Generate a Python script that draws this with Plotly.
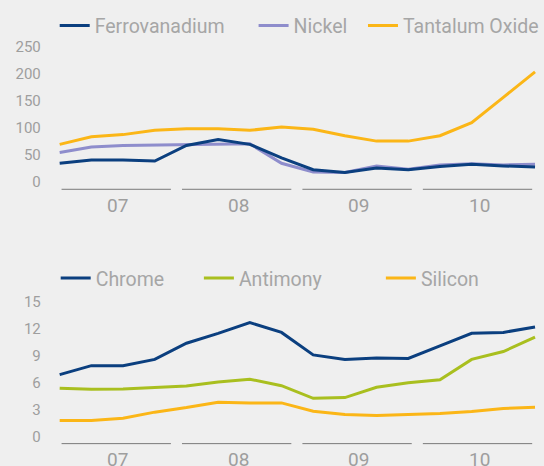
import plotly.graph_objects as go

W, H = 544, 466

quarters = list(range(16))
year_labels = ["07", "08", "09", "10"]

ferrovanadium = [34, 40, 40, 38, 67, 78, 69, 44, 22, 17, 25, 22, 28, 32, 29, 27]
nickel = [54, 64, 67, 68, 69, 69, 70, 34, 18, 17, 29, 23, 31, 33, 31, 32]
tantalum = [69, 83, 87, 95, 98, 98, 95, 101, 97, 85, 75, 75, 85, 109, 156, 203]

chrome = [6.9, 7.9, 7.9, 8.6, 10.4, 11.5, 12.7, 11.6, 9.1, 8.6, 8.75, 8.7, 10.1, 11.5, 11.6, 12.2]
antimony = [5.4, 5.27, 5.3, 5.45, 5.65, 6.08, 6.4, 5.67, 4.27, 4.35, 5.5, 6.0, 6.33, 8.6, 9.47, 11.08]
silicon = [1.8, 1.8, 2.06, 2.73, 3.24, 3.83, 3.76, 3.76, 2.84, 2.47, 2.36, 2.47, 2.58, 2.8, 3.13, 3.28]

top_ticks = [0, 50, 100, 150, 200, 250]
bot_ticks = [0, 3, 6, 9, 12, 15]

BLUE = "#0b3f7f"
LAV = "#8e8dcc"
AMBER = "#fbb617"
GREEN = "#a9bf1f"
GREY = "#9e9e9e"
BG = "#efefef"
FONT = "Roboto"

def fx(px):
    return px / W

def fy(py):
    return 1 - py / H

# x scale: quarter 0 at px 60, quarter 15 at px 538
dx = (538 - 60) / 15.0
left_px = 42
x_range = [(left_px - 60) / dx, 15 + (W - 538) / dx]

# top y scale
t0, tk = 179.8, (181.7 - 45.7) / 250
top_dom_px = (38, 194)
top_range = [(t0 - top_dom_px[1]) / tk, (t0 - top_dom_px[0]) / tk]

# bottom y scale
b0, bk = 436.5, (437.0 - 301.3) / 15
bot_dom_px = (292, 452)
bot_range = [(b0 - bot_dom_px[1]) / bk, (b0 - bot_dom_px[0]) / bk]

fig = go.Figure()

series = [
    ("Ferrovanadium", ferrovanadium, BLUE, "x", "y", "legend"),
    ("Nickel", nickel, LAV, "x", "y", "legend2"),
    ("Tantalum Oxide", tantalum, AMBER, "x", "y", "legend3"),
    ("Chrome", chrome, BLUE, "x2", "y2", "legend4"),
    ("Antimony", antimony, GREEN, "x2", "y2", "legend5"),
    ("Silicon", silicon, AMBER, "x2", "y2", "legend6"),
]
order = [2, 1, 0, 5, 4, 3]
for i in order:
    name, vals, col, xa, ya, lg = series[i]
    fig.add_trace(go.Scatter(
        x=quarters, y=vals, mode="lines", name=name, showlegend=True,
        line=dict(color=col, width=3), xaxis=xa, yaxis=ya, legend=lg,
    ))

legend_pos = {
    "legend": (61, 23), "legend2": (261, 23), "legend3": (371, 23),
    "legend4": (62, 277), "legend5": (206, 277), "legend6": (389, 277),
}
legend_font = dict(family=FONT, size=19.5, color="#a6a6a6")
for key, (lx, ly) in legend_pos.items():
    fig.layout[key] = dict(
        x=fx(lx - 6), y=fy(ly), xanchor="left", yanchor="middle",
        bgcolor="rgba(0,0,0,0)", font=legend_font, borderwidth=0,
        itemwidth=30, tracegroupgap=0, visible=True,
    )

axis_common = dict(showgrid=False, zeroline=False, showline=False)
fig.update_layout(
    width=W, height=H, showlegend=True,
    margin=dict(l=0, r=0, t=0, b=0),
    paper_bgcolor=BG, plot_bgcolor=BG,
    xaxis=dict(domain=[fx(left_px), 1], range=x_range, showticklabels=False,
               ticks="", anchor="y", **axis_common),
    yaxis=dict(domain=[fy(top_dom_px[1]), fy(top_dom_px[0])], range=top_range,
               tickvals=top_ticks, ticks="", anchor="x",
               tickfont=dict(family=FONT, size=15, color=GREY), **axis_common),
    xaxis2=dict(domain=[fx(left_px), 1], range=x_range, showticklabels=False,
                ticks="", anchor="y2", **axis_common),
    yaxis2=dict(domain=[fy(bot_dom_px[1]), fy(bot_dom_px[0])], range=bot_range,
                tickvals=bot_ticks, ticks="", anchor="x2",
                tickfont=dict(family=FONT, size=15, color=GREY), **axis_common),
)

# year separator lines and labels
year_period = 3.8
for k, lab in enumerate(year_labels):
    xs0 = 0.06 + k * year_period
    xs1 = 3.51 + k * year_period
    xc = 1.84 + k * year_period
    for xr, yr, yv, ylab in (("x", "y", (t0 - 187.5) / tk, 204),
                             ("x2", "y2", (b0 - 443.5) / bk, 459)):
        fig.add_shape(type="line", xref=xr, yref=yr, x0=xs0, x1=xs1, y0=yv, y1=yv,
                      line=dict(color="#7a7a7a", width=1))
        fig.add_annotation(x=xc, xref=xr, y=fy(ylab), yref="paper", text=lab,
                           showarrow=False, xanchor="center", yanchor="middle",
                           font=dict(family=FONT, size=19, color=GREY))

fig.write_html("out.html")
